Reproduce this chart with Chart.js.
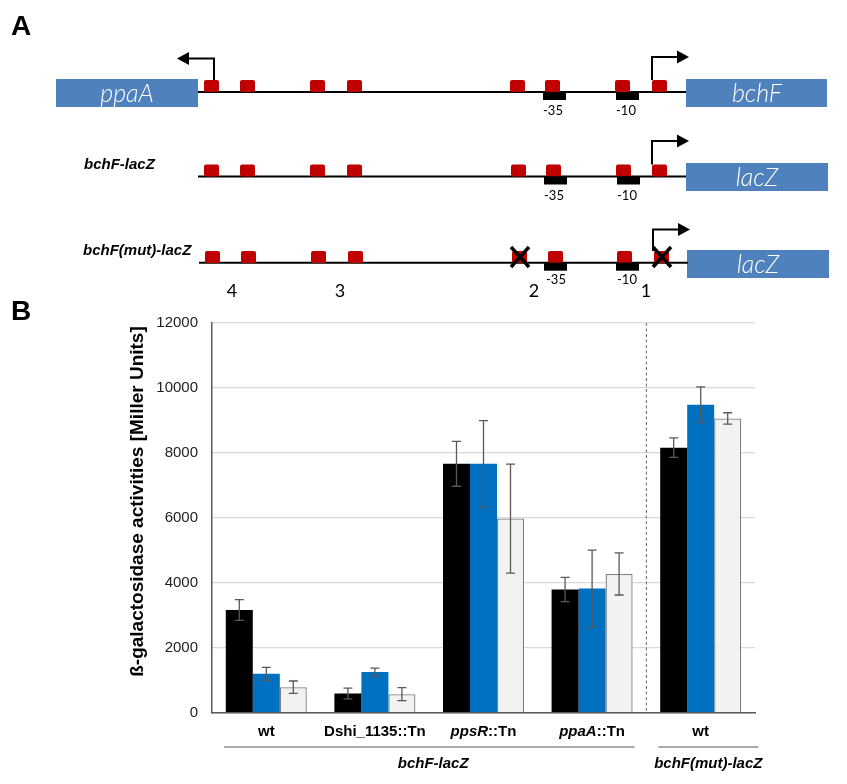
<!DOCTYPE html>
<html>
<head>
<meta charset="utf-8">
<script src="https://cdn.jsdelivr.net/npm/chart.js@4.4.0/dist/chart.umd.min.js"></script>
<style>
  html, body { margin: 0; padding: 0; background: #fff; }
  #wrap { position: relative; width: 847px; height: 784px; }
  #chartBox { position: absolute; left: 0; top: 0; width: 847px; height: 784px; }
  #diagram { position: absolute; left: 0; top: 0; pointer-events: none; }
  .gene { font-family: Lato, "Open Sans", sans-serif; font-style: italic; font-weight: 300; font-size: 25px; fill: #fff; }
  .small { font-family: Lato, "Open Sans", sans-serif; font-size: 13px; fill: #000; }
  .num { font-family: Lato, "Open Sans", sans-serif; font-size: 18px; fill: #000; }
  .cons { font-family: "Liberation Sans", Arial, sans-serif; font-style: italic; font-weight: bold; font-size: 15px; fill: #000; }
  .panel { font-family: "Liberation Sans", Arial, sans-serif; font-weight: bold; font-size: 28px; fill: #000; }
</style>
</head>
<body>
<div id="wrap">
  <div id="chartBox"><canvas id="c"></canvas></div>
  <svg id="diagram" width="847" height="784" xmlns="http://www.w3.org/2000/svg">
    <text class="panel" x="11" y="35">A</text>
    <text class="panel" x="11" y="320">B</text>

    <!-- Row 1 -->
    <rect x="56" y="79" width="142" height="28" fill="#4f81bd"/>
    <text class="gene" x="127" y="102" text-anchor="middle">ppaA</text>
    <rect x="686" y="79" width="141" height="28" fill="#4f81bd"/>
    <text class="gene" x="757" y="102" text-anchor="middle">bchF</text>
    <line x1="198" y1="92" x2="686" y2="92" stroke="#000" stroke-width="2"/>
    <g fill="#c00000">
      <rect x="204" y="80" width="15" height="12" rx="2"/>
      <rect x="240" y="80" width="15" height="12" rx="2"/>
      <rect x="310" y="80" width="15" height="12" rx="2"/>
      <rect x="347" y="80" width="15" height="12" rx="2"/>
      <rect x="510" y="80" width="15" height="12" rx="2"/>
      <rect x="545" y="80" width="15" height="12" rx="2"/>
      <rect x="615" y="80" width="15" height="12" rx="2"/>
      <rect x="652" y="80" width="15" height="12" rx="2"/>
    </g>
    <rect x="543" y="92" width="23" height="8" fill="#000"/>
    <rect x="616" y="92" width="23" height="8" fill="#000"/>
    <text class="small" x="553" y="115" text-anchor="middle">-35</text>
    <text class="small" x="626" y="115" text-anchor="middle">-10</text>
    <polyline points="214,80 214,58.5 188,58.5" fill="none" stroke="#000" stroke-width="2"/>
    <polygon points="189,52 189,65 177,58.5" fill="#000"/>
    <polyline points="652,80 652,57 678,57" fill="none" stroke="#000" stroke-width="2"/>
    <polygon points="677,50.5 677,63.5 689,57" fill="#000"/>

    <!-- Row 2 -->
    <text class="cons" x="84" y="169">bchF-lacZ</text>
    <rect x="686" y="163" width="142" height="28" fill="#4f81bd"/>
    <text class="gene" x="757" y="186" text-anchor="middle">lacZ</text>
    <line x1="198" y1="176.5" x2="686" y2="176.5" stroke="#000" stroke-width="2"/>
    <g fill="#c00000">
      <rect x="204" y="164.5" width="15" height="12" rx="2"/>
      <rect x="240" y="164.5" width="15" height="12" rx="2"/>
      <rect x="310" y="164.5" width="15" height="12" rx="2"/>
      <rect x="347" y="164.5" width="15" height="12" rx="2"/>
      <rect x="511" y="164.5" width="15" height="12" rx="2"/>
      <rect x="546" y="164.5" width="15" height="12" rx="2"/>
      <rect x="616" y="164.5" width="15" height="12" rx="2"/>
      <rect x="652" y="164.5" width="15" height="12" rx="2"/>
    </g>
    <rect x="544" y="176.5" width="23" height="8" fill="#000"/>
    <rect x="617" y="176.5" width="23" height="8" fill="#000"/>
    <text class="small" x="554" y="199.5" text-anchor="middle">-35</text>
    <text class="small" x="627" y="199.5" text-anchor="middle">-10</text>
    <polyline points="652,164.5 652,141 678,141" fill="none" stroke="#000" stroke-width="2"/>
    <polygon points="677,134.5 677,147.5 689,141" fill="#000"/>

    <!-- Row 3 -->
    <text class="cons" x="83" y="255">bchF(mut)-lacZ</text>
    <rect x="687" y="250" width="142" height="28" fill="#4f81bd"/>
    <text class="gene" x="758" y="273" text-anchor="middle">lacZ</text>
    <line x1="199" y1="262.7" x2="688" y2="262.7" stroke="#000" stroke-width="2"/>
    <g fill="#c00000">
      <rect x="205" y="251" width="15" height="12" rx="2"/>
      <rect x="241" y="251" width="15" height="12" rx="2"/>
      <rect x="311" y="251" width="15" height="12" rx="2"/>
      <rect x="348" y="251" width="15" height="12" rx="2"/>
      <rect x="512" y="251" width="15" height="12" rx="2"/>
      <rect x="548" y="251" width="15" height="12" rx="2"/>
      <rect x="617" y="251" width="15" height="12" rx="2"/>
      <rect x="654" y="251" width="15" height="12" rx="2"/>
    </g>
    <rect x="544" y="262.7" width="23" height="8" fill="#000"/>
    <rect x="616" y="262.7" width="23" height="8" fill="#000"/>
    <g stroke="#000" stroke-width="3.5">
      <line x1="511" y1="247" x2="529" y2="267"/>
      <line x1="529" y1="247" x2="511" y2="267"/>
      <line x1="653" y1="247" x2="671" y2="267"/>
      <line x1="671" y1="247" x2="653" y2="267"/>
    </g>
    <polyline points="653,251 653,229.5 679,229.5" fill="none" stroke="#000" stroke-width="2"/>
    <polygon points="678,223 678,236 690,229.5" fill="#000"/>
    <text class="small" x="556" y="284" text-anchor="middle">-35</text>
    <text class="small" x="627" y="284" text-anchor="middle">-10</text>
    <text class="num" x="232" y="297" text-anchor="middle">4</text>
    <text class="num" x="340" y="297" text-anchor="middle">3</text>
    <text class="num" x="534" y="297" text-anchor="middle">2</text>
    <text class="num" x="646" y="297" text-anchor="middle">1</text>
  </svg>
</div>
<script>
// ---------------- data ----------------
const categories = ['wt', 'Dshi_1135::Tn', 'ppsR::Tn', 'ppaA::Tn', 'wt'];
// label pieces: [text, italic?]
const categoryLabelParts = [
  [['wt', false]],
  [['Dshi_1135::Tn', false]],
  [['ppsR', true], ['::Tn', false]],
  [['ppaA', true], ['::Tn', false]],
  [['wt', false]]
];
const groupLabels = ['bchF-lacZ', 'bchF(mut)-lacZ'];
const groupMembers = [[0, 3], [4, 4]];

const valuesBlack = [3160, 585, 7660, 3790, 8160];
const errorsBlack = [320, 165, 690, 375, 300];
const valuesBlue  = [1190, 1245, 7660, 3820, 9485];
const errorsBlue  = [200, 125, 1330, 1185, 545];
const valuesGray  = [780, 565, 5975, 4270, 9060];
const errorsGray  = [190, 200, 1680, 650, 175];

const yMin = 0, yMax = 12000, yStep = 2000;
const yTitle = 'ß-galactosidase activities [Miller Units]';

// ---------------- plugins ----------------
const errorBarPlugin = {
  id: 'errorBars',
  afterDatasetsDraw(chart) {
    const ctx = chart.ctx;
    const y = chart.scales.y;
    ctx.save();
    ctx.strokeStyle = '#595959';
    ctx.lineWidth = 1.3;
    chart.data.datasets.forEach((ds, di) => {
      const meta = chart.getDatasetMeta(di);
      meta.data.forEach((bar, i) => {
        const v = ds.data[i], e = ds.errors[i];
        const yt = y.getPixelForValue(v + e), yb = y.getPixelForValue(v - e);
        const x = bar.x, cap = 4.5;
        ctx.beginPath();
        ctx.moveTo(x, yt); ctx.lineTo(x, yb);
        ctx.moveTo(x - cap, yt); ctx.lineTo(x + cap, yt);
        ctx.moveTo(x - cap, yb); ctx.lineTo(x + cap, yb);
        ctx.stroke();
      });
    });
    ctx.restore();
  }
};

const labelPlugin = {
  id: 'customLabels',
  afterDraw(chart) {
    const ctx = chart.ctx;
    const xs = chart.scales.x, ys = chart.scales.y;
    const area = chart.chartArea;
    ctx.save();
    // dashed separator
    const sepX = (xs.getPixelForValue(3) + xs.getPixelForValue(4)) / 2;
    ctx.strokeStyle = '#7f7f7f';
    ctx.lineWidth = 1.2;
    ctx.setLineDash([3, 2.5]);
    ctx.beginPath();
    ctx.moveTo(sepX, area.top); ctx.lineTo(sepX, area.bottom);
    ctx.stroke();
    ctx.setLineDash([]);

    // category labels with mixed italics
    ctx.fillStyle = '#000';
    ctx.textBaseline = 'middle';
    categoryLabelParts.forEach((parts, i) => {
      const cx = xs.getPixelForValue(i);
      const fonts = parts.map(p => (p[1] ? 'italic ' : '') + 'bold 15px "Liberation Sans", Arial, sans-serif');
      let total = 0;
      const widths = parts.map((p, k) => { ctx.font = fonts[k]; const w = ctx.measureText(p[0]).width; total += w; return w; });
      let x = cx - total / 2;
      parts.forEach((p, k) => {
        ctx.font = fonts[k];
        ctx.textAlign = 'left';
        ctx.fillText(p[0], x, area.bottom + 19.5);
        x += widths[k];
      });
    });

    // group lines and labels
    const half = xs.getPixelForValue(1) - xs.getPixelForValue(0);
    ctx.strokeStyle = '#8c8c8c';
    ctx.lineWidth = 1.5;
    const spans = [
      [xs.getPixelForValue(groupMembers[0][0]) - half * 0.39, xs.getPixelForValue(groupMembers[0][1]) + half * 0.39],
      [xs.getPixelForValue(groupMembers[1][0]) - half * 0.39, xs.getPixelForValue(groupMembers[1][1]) + half * 0.53]
    ];
    ctx.font = 'italic bold 15px "Liberation Sans", Arial, sans-serif';
    ctx.textAlign = 'center';
    spans.forEach((s, g) => {
      ctx.beginPath();
      ctx.moveTo(s[0], area.bottom + 34.5); ctx.lineTo(s[1], area.bottom + 34.5);
      ctx.stroke();
      ctx.fillText(groupLabels[g], (s[0] + s[1]) / 2 + (g === 0 ? 4 : 0), area.bottom + 51.5);
    });

    // y-axis title
    ctx.font = 'bold 19px "Liberation Sans", Arial, sans-serif';
    ctx.translate(138, ys.getPixelForValue(6500));
    ctx.rotate(-Math.PI / 2);
    ctx.textAlign = 'center';
    ctx.fillText(yTitle, 0, 0);
    ctx.restore();
  }
};

// ---------------- chart ----------------
new Chart(document.getElementById('c'), {
  type: 'bar',
  data: {
    labels: categories,
    datasets: [
      { data: valuesBlack, errors: errorsBlack, backgroundColor: '#000000', borderWidth: 0 },
      { data: valuesBlue, errors: errorsBlue, backgroundColor: '#0070c0', borderWidth: 0 },
      { data: valuesGray, errors: errorsGray, backgroundColor: '#f2f2f2', borderColor: '#7f7f7f', borderWidth: 1.3 }
    ]
  },
  options: {
    responsive: true,
    maintainAspectRatio: false,
    animation: false,
    devicePixelRatio: 1,
    layout: { padding: { left: 0, right: 92, top: 323, bottom: 63.5 } },
    plugins: { legend: { display: false }, tooltip: { enabled: false } },
    datasets: { bar: { categoryPercentage: 0.746, barPercentage: 1.0 } },
    scales: {
      x: {
        grid: { display: false },
        border: { display: true, color: '#595959', width: 1.5 },
        ticks: { display: false }
      },
      y: {
        min: yMin, max: yMax,
        afterFit(scale) { scale.width = 212; },
        ticks: {
          stepSize: yStep, padding: 14, color: '#222',
          font: { family: '"Liberation Sans", Arial, sans-serif', size: 15 },
          callback: (v) => String(v)
        },
        grid: { color: '#d9d9d9', lineWidth: 1.2, drawTicks: false },
        border: { display: true, color: '#595959', width: 1.5 }
      }
    }
  },
  plugins: [errorBarPlugin, labelPlugin]
});
</script>
</body>
</html>
